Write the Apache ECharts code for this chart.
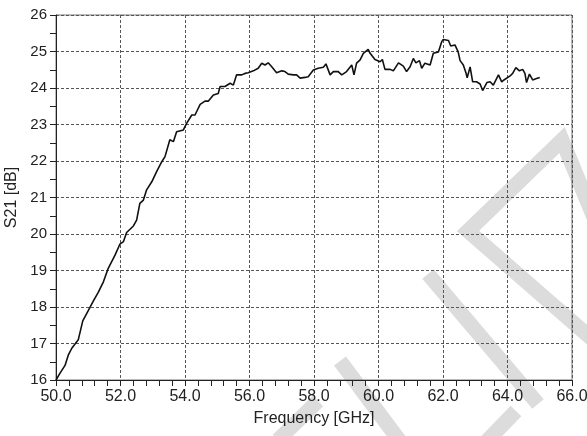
<!DOCTYPE html>
<html>
<head>
<meta charset="utf-8">
<title>S21</title>
<script src="https://cdn.jsdelivr.net/npm/echarts@6/dist/echarts.min.js"></script>
<style>
  html, body { margin: 0; padding: 0; background: #fff; }
  #chart { width: 587px; height: 436px; }
</style>
</head>
<body>
<div id="chart"></div>
<script>
const freq = [
  50.00, 50.12, 50.28, 50.38, 50.49, 50.69, 50.83, 51.00, 51.16, 51.31,
  51.47, 51.62, 51.83, 51.98, 52.09, 52.19, 52.40, 52.50, 52.60, 52.71,
  52.81, 52.97, 53.12, 53.28, 53.38, 53.53, 53.64, 53.74, 53.95, 54.05,
  54.21, 54.31, 54.47, 54.62, 54.72, 54.88, 55.03, 55.09, 55.24, 55.40,
  55.50, 55.60, 55.76, 55.86, 55.96, 56.12, 56.27, 56.38, 56.48, 56.58,
  56.69, 56.84, 57.00, 57.10, 57.20, 57.36, 57.46, 57.57, 57.72, 57.82,
  57.98, 58.13, 58.29, 58.37, 58.50, 58.60, 58.75, 58.86, 59.01, 59.17,
  59.24, 59.32, 59.43, 59.53, 59.68, 59.74, 59.89, 60.05, 60.12, 60.20,
  60.36, 60.46, 60.62, 60.77, 60.87, 60.98, 61.08, 61.16, 61.27, 61.34,
  61.44, 61.60, 61.70, 61.86, 61.96, 62.01, 62.17, 62.24, 62.37, 62.47,
  62.53, 62.63, 62.71, 62.75, 62.84, 62.92, 63.04, 63.15, 63.23, 63.36,
  63.46, 63.56, 63.72, 63.82, 63.89, 63.95, 64.08, 64.16, 64.26, 64.37,
  64.47, 64.54, 64.59, 64.68, 64.78, 64.90, 65.00
]
const s21 = [
  16.00, 16.18, 16.40, 16.68, 16.87, 17.10, 17.62, 17.90, 18.17, 18.40,
  18.69, 19.06, 19.42, 19.72, 19.79, 20.04, 20.22, 20.38, 20.84, 20.93,
  21.21, 21.43, 21.71, 21.98, 22.12, 22.58, 22.53, 22.80, 22.85, 23.03,
  23.26, 23.26, 23.55, 23.64, 23.64, 23.81, 23.85, 24.04, 24.04, 24.13,
  24.08, 24.36, 24.36, 24.40, 24.42, 24.47, 24.54, 24.68, 24.63, 24.69,
  24.58, 24.42, 24.47, 24.45, 24.38, 24.36, 24.36, 24.27, 24.29, 24.31,
  24.49, 24.54, 24.57, 24.66, 24.36, 24.45, 24.45, 24.36, 24.45, 24.63,
  24.36, 24.68, 24.77, 24.95, 25.06, 24.95, 24.78, 24.72, 24.78, 24.51,
  24.51, 24.47, 24.69, 24.60, 24.45, 24.58, 24.81, 24.69, 24.75, 24.54,
  24.68, 24.63, 24.95, 24.99, 25.27, 25.33, 25.30, 25.15, 25.18, 24.99,
  24.75, 24.63, 24.42, 24.28, 24.58, 24.17, 24.17, 24.11, 23.93, 24.15,
  24.17, 24.08, 24.36, 24.17, 24.22, 24.17, 24.33, 24.40, 24.56, 24.47,
  24.51, 24.40, 24.15, 24.38, 24.22, 24.26, 24.29
]

const xName = 'Frequency [GHz]'
const yName = 'S21 [dB]'

const font = '"Liberation Sans", Arial, Helvetica, sans-serif'

// background watermark strokes (pixel positions)
const watermark = [
  [[340, 361], [402, 444]],
  [[318, 401], [278, 440]],
  [[428, 274], [538, 404]],
  [[516, 411], [486, 442]],
  [[600, 346], [468, 231], [562, 140], [600, 232]]
]

const chart = echarts.init(document.getElementById('chart'))

const option = {
  backgroundColor: '#fff',
  animation: false,
  textStyle: { fontFamily: font },
  grid: {
    left: 56, right: 15, top: 15, bottom: 56,
    containLabel: false,
    outerBoundsMode: 'none',
    show: true,
    borderColor: '#777',
    borderWidth: 1
  },
  graphic: watermark.map(pts => ({
    type: 'polyline',
    z: -10,
    silent: true,
    shape: { points: pts },
    style: { stroke: '#dcdcdc', lineWidth: 15, fill: null, lineJoin: 'miter', lineCap: 'butt' }
  })),
  xAxis: {
    type: 'value',
    min: 50,
    max: 66,
    interval: 2,
    name: xName,
    nameLocation: 'middle',
    nameGap: 31,
    nameTextStyle: { fontSize: 16, color: '#222', fontFamily: font },
    axisLine: { show: true, lineStyle: { color: '#222', width: 1 } },
    axisTick: { show: true, inside: false, length: 6, lineStyle: { color: '#222' } },
    minorTick: { show: true, splitNumber: 5, length: 6, lineStyle: { color: '#222' } },
    axisLabel: {
      fontSize: 16, color: '#222', margin: 9, fontFamily: font,
      formatter: v => v.toFixed(1)
    },
    splitLine: { show: true, lineStyle: { color: '#555', type: [3, 2], width: 1 } }
  },
  yAxis: {
    type: 'value',
    min: 16,
    max: 26,
    interval: 1,
    name: yName,
    nameLocation: 'middle',
    nameGap: 31,
    nameTextStyle: { fontSize: 16, color: '#222', fontFamily: font },
    axisLine: { show: true, lineStyle: { color: '#222', width: 1 } },
    axisTick: { show: true, inside: false, length: 6, lineStyle: { color: '#222' } },
    minorTick: { show: true, splitNumber: 2, length: 6, lineStyle: { color: '#222' } },
    axisLabel: { fontSize: 15, color: '#222', margin: 9, fontFamily: font },
    splitLine: { show: true, lineStyle: { color: '#555', type: [3, 2], width: 1 } }
  },
  series: [{
    type: 'line',
    data: freq.map((f, i) => [f, s21[i]]),
    showSymbol: false,
    smooth: false,
    lineStyle: { color: '#111', width: 1.6 },
    z: 5
  }]
}

chart.setOption(option)
</script>
</body>
</html>
